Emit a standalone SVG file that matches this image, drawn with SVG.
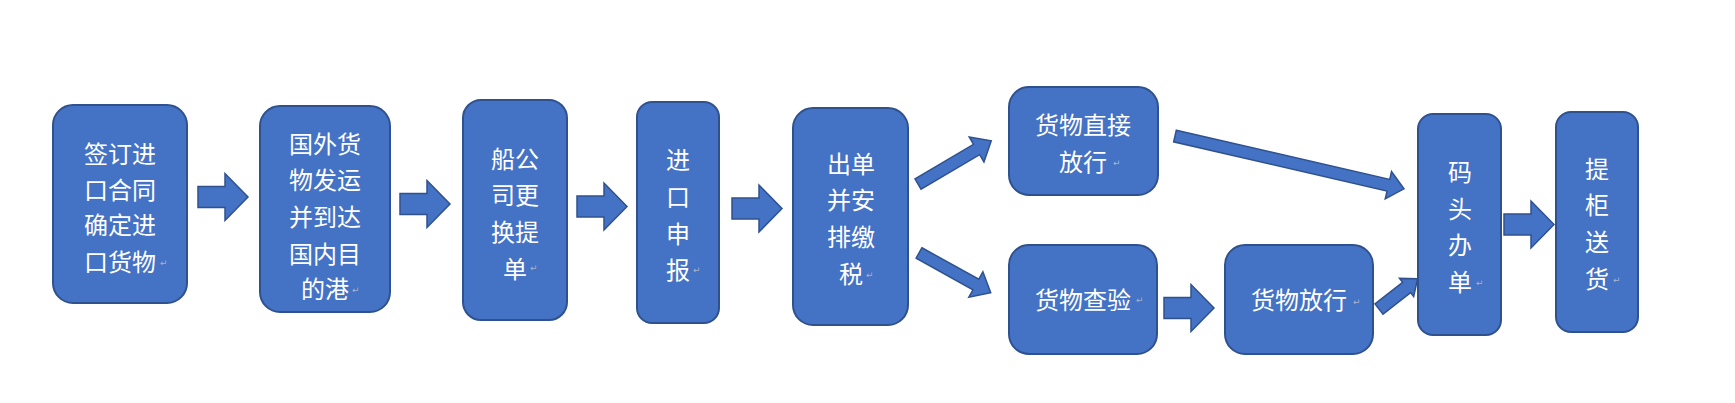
<svg xmlns="http://www.w3.org/2000/svg" width="1735" height="403" viewBox="0 0 1735 403">
<style>
.box{fill:#4472C4;stroke:#2F528F;stroke-width:2}
.arr{fill:#4472C4;stroke:#2F528F;stroke-width:1.5;stroke-linejoin:miter}
.t{font-family:"Noto Sans CJK SC","Noto Sans",sans-serif;font-size:24px;fill:#ffffff;text-anchor:middle;dominant-baseline:central}
.m{font-family:"DejaVu Sans",sans-serif;font-size:9px;fill:#a8b4cc;dominant-baseline:central}
</style>
<defs>
<path id="harrow" d="M0,-10.5 H27 V-23.5 L50,0 L27,23.5 V10.5 H0 Z"/>
</defs>
<rect width="1735" height="403" fill="#ffffff"/>
<g id="connectors">
<use href="#harrow" class="arr" transform="translate(198,197)"/>
<use href="#harrow" class="arr" transform="translate(400,204)"/>
<use href="#harrow" class="arr" transform="translate(577,206.5)"/>
<use href="#harrow" class="arr" transform="translate(732,208.5)"/>
<use href="#harrow" class="arr" transform="translate(1164,308)"/>
<use href="#harrow" class="arr" transform="translate(1504,224.5)"/>
<path class="arr" d="M0,-6 H68 V-14.5 L85,0 L68,14.5 V6 H0 Z" transform="translate(918,184) rotate(-30.5)"/>
<path class="arr" d="M0,-6 H65 V-14.5 L82,0 L65,14.5 V6 H0 Z" transform="translate(919,253) rotate(29)"/>
<path class="arr" d="M0,-6 H219 V-14 L235,0 L219,14 V6 H0 Z" transform="translate(1175,136) rotate(13)"/>
<path class="arr" d="M0,-6.5 H35 V-11.5 L49,0 L35,11.5 V6.5 H0 Z" transform="translate(1379,309) rotate(-38)"/>
</g>
<g id="n1">
<rect class="box" x="53" y="105" width="134" height="198" rx="20"/>
<text class="t" x="120" y="152">签订进</text>
<text class="t" x="120" y="188">口合同</text>
<text class="t" x="120" y="223">确定进</text>
<text class="t" x="120" y="260">口货物</text>
<text class="m" x="160" y="263">↵</text>
</g>
<g id="n2">
<rect class="box" x="260" y="106" width="130" height="206" rx="20"/>
<text class="t" x="325" y="142">国外货</text>
<text class="t" x="325" y="178">物发运</text>
<text class="t" x="325" y="215">并到达</text>
<text class="t" x="325" y="252">国内目</text>
<text class="t" x="325" y="287">的港</text>
<text class="m" x="352" y="290">↵</text>
</g>
<g id="n3">
<rect class="box" x="463" y="100" width="104" height="220" rx="18"/>
<text class="t" x="515" y="157">船公</text>
<text class="t" x="515" y="193">司更</text>
<text class="t" x="515" y="230">换提</text>
<text class="t" x="515" y="267">单</text>
<text class="m" x="530" y="268">↵</text>
</g>
<g id="n4">
<rect class="box" x="637" y="102" width="82" height="221" rx="15"/>
<text class="t" x="678" y="158">进</text>
<text class="t" x="678" y="195">口</text>
<text class="t" x="678" y="232">申</text>
<text class="t" x="678" y="268">报</text>
<text class="m" x="693" y="270">↵</text>
</g>
<g id="n5">
<rect class="box" x="793" y="108" width="115" height="217" rx="20"/>
<text class="t" x="851" y="162">出单</text>
<text class="t" x="851" y="198">并安</text>
<text class="t" x="851" y="235">排缴</text>
<text class="t" x="851" y="272">税</text>
<text class="m" x="866" y="275">↵</text>
</g>
<g id="n6">
<rect class="box" x="1009" y="87" width="149" height="108" rx="20"/>
<text class="t" x="1083" y="123">货物直接</text>
<text class="t" x="1083" y="160">放行</text>
<text class="m" x="1113" y="163">↵</text>
</g>
<g id="n7">
<rect class="box" x="1009" y="245" width="148" height="109" rx="20"/>
<text class="t" x="1083" y="298">货物查验</text>
<text class="m" x="1136" y="300">↵</text>
</g>
<g id="n8">
<rect class="box" x="1225" y="245" width="148" height="109" rx="20"/>
<text class="t" x="1299" y="298">货物放行</text>
<text class="m" x="1353" y="302">↵</text>
</g>
<g id="n9">
<rect class="box" x="1418" y="114" width="83" height="221" rx="15"/>
<text class="t" x="1460" y="170">码</text>
<text class="t" x="1460" y="207">头</text>
<text class="t" x="1460" y="243">办</text>
<text class="t" x="1460" y="280">单</text>
<text class="m" x="1476" y="283">↵</text>
</g>
<g id="n10">
<rect class="box" x="1556" y="112" width="82" height="220" rx="15"/>
<text class="t" x="1597" y="167">提</text>
<text class="t" x="1597" y="203">柜</text>
<text class="t" x="1597" y="240">送</text>
<text class="t" x="1597" y="277">货</text>
<text class="m" x="1613" y="280">↵</text>
</g>
</svg>
